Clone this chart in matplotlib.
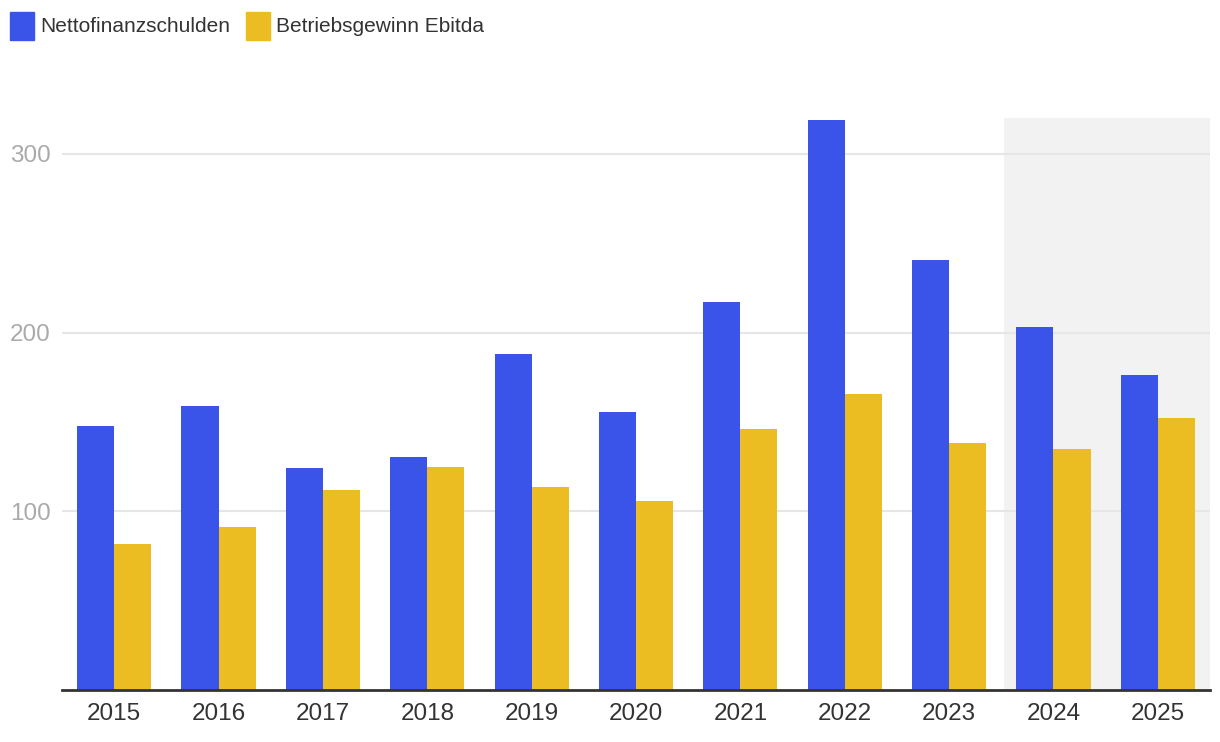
import matplotlib.pyplot as plt
import numpy as np
from matplotlib.patches import Rectangle

years = ['2015', '2016', '2017', '2018', '2019', '2020', '2021', '2022', '2023', '2024', '2025']
netto_schulden = [147.5, 158.7, 124, 130.2, 187.7, 155.3, 217.3, 319, 240.8, 202.8, 176.5]
ebitda = [81.6, 91, 111.7, 124.6, 113.4, 105.6, 145.8, 165.4, 138, 134.6, 152]
forecast_years = ['2024', '2025']

blue = '#3a53e8'
yellow = '#ebbd23'

plt.rcParams['font.family'] = ['Liberation Sans', 'DejaVu Sans']

fig = plt.figure(figsize=(12.2, 7.42), dpi=100)
W, H = 1220, 742
ax = fig.add_axes([62 / W, (H - 690) / H, (1210 - 62) / W, (690 - 118) / H])

x = np.arange(len(years))
w = 0.355

# shaded forecast area
first = years.index(forecast_years[0])
last = years.index(forecast_years[-1])
ax.axvspan(first - 0.47, last + 0.5, color='#f2f2f2', zorder=0, lw=0)

ax.bar(x - w / 2, netto_schulden, width=w, color=blue, zorder=3)
ax.bar(x + w / 2, ebitda, width=w, color=yellow, zorder=3)

ax.set_xlim(-0.5, len(years) - 0.5)
ax.set_ylim(0, 320)
ax.set_yticks([100, 200, 300])
ax.grid(axis='y', color='#e6e6e6', lw=1.5, zorder=1)
ax.set_axisbelow(False)

for s in ['top', 'right', 'left']:
    ax.spines[s].set_visible(False)
ax.spines['bottom'].set_color('#333333')
ax.spines['bottom'].set_linewidth(2)
ax.spines['bottom'].set_zorder(4)

ax.set_xticks(x)
ax.set_xticklabels(years)
ax.tick_params(axis='x', length=0, labelsize=17.5, labelcolor='#333333', pad=9)
ax.tick_params(axis='y', length=0, labelsize=17.5, labelcolor='#aaaaaa', pad=8)

# legend
def legend_item(x0, color, label):
    fig.add_artist(Rectangle((x0 / W, (H - 40) / H), 24 / W, 28 / H,
                             transform=fig.transFigure, color=color))
    fig.text((x0 + 30) / W, (H - 27) / H, label, fontsize=15,
             color='#333333', va='center', ha='left')

legend_item(10, blue, 'Nettofinanzschulden')
legend_item(246, yellow, 'Betriebsgewinn Ebitda')

fig.savefig('out.png', dpi=100)
